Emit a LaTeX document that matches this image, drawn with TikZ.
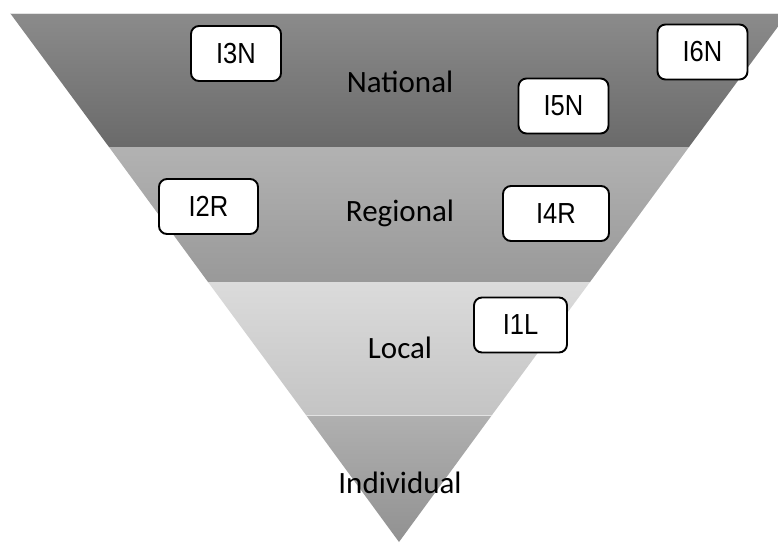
\documentclass[tikz,border=0pt]{standalone}
\usepackage{fontspec}
\setmainfont{Carlito}
\newfontfamily\boxfont[FakeStretch=0.88]{Liberation Sans}
\usetikzlibrary{calc}
\definecolor{natTop}{RGB}{139,139,139}
\definecolor{natBot}{RGB}{106,106,106}
\definecolor{regTop}{RGB}{178,178,178}
\definecolor{regBot}{RGB}{153,153,153}
\definecolor{locTop}{RGB}{219,219,219}
\definecolor{locBot}{RGB}{196,196,196}
\definecolor{indTop}{RGB}{176,176,176}
\definecolor{indBot}{RGB}{145,145,145}
\tikzset{
  code/.style={draw=black, line width=1.9pt, rounded corners=8pt, fill=white,
    minimum width=90pt, minimum height=55pt, inner sep=0pt,
    font=\boxfont\fontsize{29}{29}\selectfont},
  level/.style={font=\fontsize{31}{31}\selectfont, inner sep=0pt},
  seam/.style={draw=white!78!gray, line width=0.8pt},
}

\begin{document}
\begin{tikzpicture}[x=1pt, y=-1pt]
  \useasboundingbox (0,0) rectangle (778,542);
  \clip (0,0) rectangle (778,542);
  % band corners
  \coordinate (t1) at (10,13);   \coordinate (t2) at (788,13);
  \coordinate (a1) at (109,147); \coordinate (a2) at (689,147);
  \coordinate (b1) at (208,282); \coordinate (b2) at (590,282);
  \coordinate (c1) at (306,415); \coordinate (c2) at (492,415);
  \coordinate (apex) at (399,542);
  % bands
  \shade[top color=natTop, bottom color=natBot] (t1) -- (t2) -- (a2) -- (a1) -- cycle;
  \shade[top color=regTop, bottom color=regBot] (a1) -- (a2) -- (b2) -- (b1) -- cycle;
  \shade[top color=locTop, bottom color=locBot] (b1) -- (b2) -- (c2) -- (c1) -- cycle;
  \shade[top color=indTop, bottom color=indBot] (c1) -- (c2) -- (apex) -- cycle;
  \draw[seam] (t1) -- (t2);
  \draw[seam] (c1) -- (c2);
  % level names
  \node[level] (national) at (400,82) {National};
  \node[level] (regional) at (400,213) {Regional};
  \node[level] (local) at (400,348) {Local};
  \node[level] (individual) at (400,483) {Individual};
  % indicators
  \node[code] (i3n) at (236,53.5) {I3N};
  \node[code] (i6n) at (702.5,52) {I6N};
  \node[code] (i5n) at (563.5,106) {I5N};
  \node[code, minimum width=99pt] (i2r) at (208.5,206.5) {I2R};
  \node[code, minimum width=106pt] (i4r) at (556,213.5) {I4R};
  \node[code, minimum width=93pt] (i1l) at (520.5,325) {I1L};
\end{tikzpicture}
\end{document}
